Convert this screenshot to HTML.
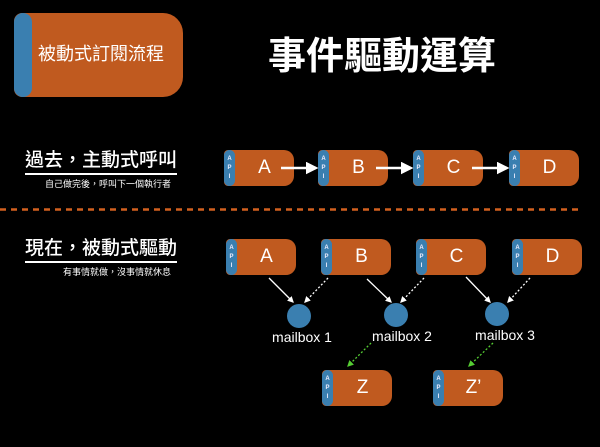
<!DOCTYPE html>
<html><head><meta charset="utf-8"><style>
body{margin:0;background:#000;width:600px;height:447px;overflow:hidden;position:relative;font-family:"Liberation Sans","Noto Sans CJK TC",sans-serif;color:#fff}
.t{position:absolute;white-space:nowrap}
.box{position:absolute;background:#c05a1f;border-radius:4px 10px 10px 4px;height:36px;width:70px}
.box .api{position:absolute;left:0;top:0;width:11px;height:100%;background:#3a7fb0;border-radius:6px;font-size:6px;line-height:9px;text-align:center;padding-top:5px;box-sizing:border-box;font-weight:bold;color:#eef}
.box .l{position:absolute;left:11px;right:0;top:0;line-height:36px;text-align:center;font-size:19px}
</style></head><body>
<div style="position:absolute;left:14px;top:13px;width:169px;height:84px;background:#c05a1f;border-radius:8px 20px 20px 8px"></div>
<div style="position:absolute;left:14px;top:13px;width:18px;height:84px;background:#3a7fb0;border-radius:9px"></div>
<div class="t" style="left:38px;top:42px;font-size:18px;line-height:24px">被動式訂閱流程</div>
<div class="t" style="left:268px;top:34px;font-size:38px;line-height:46px;font-weight:bold">事件驅動運算</div>

<div class="t" style="left:25px;top:148px;font-size:19px;line-height:26px;font-weight:500">過去，主動式呼叫</div>
<div style="position:absolute;left:25px;top:173px;width:152px;height:2px;background:#fff"></div>
<div class="t" style="left:45px;top:178px;font-size:9px;line-height:12px">自己做完後，呼叫下一個執行者</div>
<div class="t" style="left:25px;top:236px;font-size:19px;line-height:26px;font-weight:500">現在，被動式驅動</div>
<div style="position:absolute;left:25px;top:261px;width:152px;height:2px;background:#fff"></div>
<div class="t" style="left:63px;top:266px;font-size:9px;line-height:12px">有事情就做，沒事情就休息</div>

<div class="box" style="left:224px;top:150px"><div class="api">A<br>P<br>I</div><div class="l">A</div></div>
<div class="box" style="left:318px;top:150px"><div class="api">A<br>P<br>I</div><div class="l">B</div></div>
<div class="box" style="left:413px;top:150px"><div class="api">A<br>P<br>I</div><div class="l">C</div></div>
<div class="box" style="left:509px;top:150px"><div class="api">A<br>P<br>I</div><div class="l">D</div></div>
<div class="box" style="left:226px;top:239px"><div class="api">A<br>P<br>I</div><div class="l">A</div></div>
<div class="box" style="left:321px;top:239px"><div class="api">A<br>P<br>I</div><div class="l">B</div></div>
<div class="box" style="left:416px;top:239px"><div class="api">A<br>P<br>I</div><div class="l">C</div></div>
<div class="box" style="left:512px;top:239px"><div class="api">A<br>P<br>I</div><div class="l">D</div></div>
<div class="box" style="left:322px;top:370px"><div class="api">A<br>P<br>I</div><div class="l">Z</div></div>
<div class="box" style="left:433px;top:370px"><div class="api">A<br>P<br>I</div><div class="l">Z’</div></div>

<svg width="600" height="447" style="position:absolute;left:0;top:0">
<defs>
<marker id="w" viewBox="0 0 10 10" refX="8" refY="5" markerWidth="5" markerHeight="5" orient="auto"><path d="M0,0L10,5L0,10z" fill="#fff"/></marker>
<marker id="g" viewBox="0 0 10 10" refX="8" refY="5" markerWidth="5" markerHeight="5" orient="auto"><path d="M0,0L10,5L0,10z" fill="#5c3"/></marker>
</defs>
<line x1="0" y1="209.5" x2="582" y2="209.5" stroke="#d2601f" stroke-width="2.5" stroke-dasharray="6,5"/>
<g stroke="#fff" stroke-width="2.5" marker-end="url(#w)">
<line x1="281" y1="168" x2="316" y2="168"/><line x1="376" y1="168" x2="411" y2="168"/><line x1="472" y1="168" x2="507" y2="168"/>
</g>
<g stroke="#fff" stroke-width="1.3" marker-end="url(#w)">
<line x1="269" y1="278" x2="293" y2="302"/><line x1="367" y1="279" x2="391" y2="302"/><line x1="466" y1="277" x2="490" y2="302"/>
<line x1="328" y1="278" x2="305" y2="302" stroke-dasharray="2,2"/><line x1="424" y1="278" x2="401" y2="302" stroke-dasharray="2,2"/><line x1="530" y1="278" x2="508" y2="302" stroke-dasharray="2,2"/>
</g>
<g stroke="#5c3" stroke-width="1.3" stroke-dasharray="2,2" marker-end="url(#g)">
<line x1="371" y1="343" x2="348" y2="366"/><line x1="493" y1="343" x2="469" y2="366"/>
</g>
<g fill="#3a7fb0"><circle cx="299" cy="316" r="12"/><circle cx="396" cy="315" r="12"/><circle cx="497" cy="314" r="12"/></g>
<g fill="#fff" font-size="14" font-family="Liberation Sans,sans-serif" text-anchor="middle">
<text x="302" y="342">mailbox 1</text><text x="402" y="341">mailbox 2</text><text x="505" y="340">mailbox 3</text>
</g>
</svg>
</body></html>
